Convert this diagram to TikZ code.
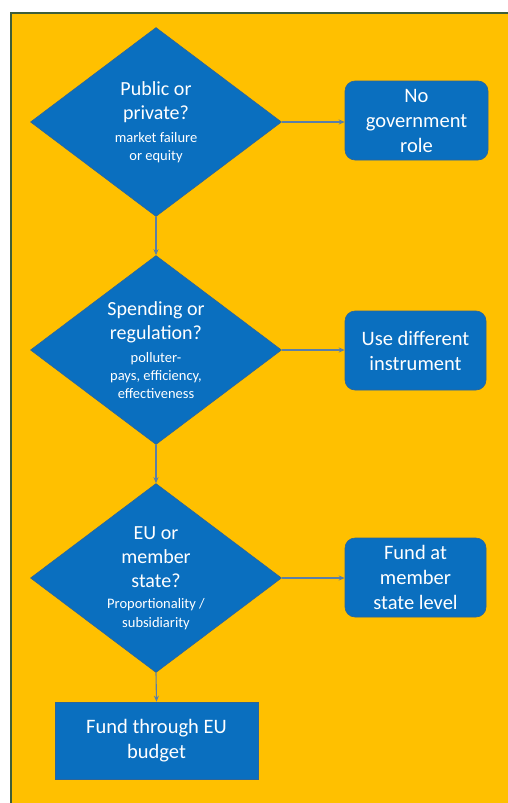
\documentclass[tikz,border=0pt]{standalone}
\usepackage{fontspec}
\setmainfont{Carlito}
\usetikzlibrary{shapes.geometric,arrows.meta}

\definecolor{panel}{HTML}{FFC000}
\definecolor{paneledge}{HTML}{3E5E3A}
\definecolor{shapefill}{HTML}{0A6FBF}
\definecolor{shapeedge}{HTML}{2E6599}
\definecolor{link}{HTML}{5A7FA8}

\newcommand{\subq}{\fontsize{14.5}{18}\selectfont}

\tikzset{
  dia/.style={diamond, aspect=1.33, inner sep=0pt,
    minimum width=251pt, minimum height=189pt,
    fill=shapefill, draw=shapeedge, line width=0.6pt,
    text=white, align=center, font=\fontsize{20}{24}\selectfont},
  endbox/.style={rectangle, rounded corners=10pt,
    fill=shapefill, draw=shapeedge, line width=0.6pt,
    text=white, align=center, font=\fontsize{20.5}{25}\selectfont},
  lastbox/.style={rectangle, fill=shapefill, draw=shapeedge, line width=0.6pt,
    text=white, align=center, font=\fontsize{20.5}{25}\selectfont},
  flow/.style={draw=link, line width=1.1pt,
    -{Stealth[length=6pt,width=5pt]}}
}

\begin{document}
\begin{tikzpicture}[x=1pt, y=-1pt]
  \useasboundingbox (0,0) rectangle (508,803);
  \fill[white] (0,0) rectangle (508,803);

  % yellow panel, running off the right and bottom edges
  \fill[panel] (11,13) rectangle (512,808);
  \draw[paneledge, line width=2pt] (11,808) -- (11,13) -- (512,13);

  % decisions
  \node[dia] (d1) at (156,122)
    {Public or\\private?\\[-0.5pt]{\subq market failure}\\[-6pt]{\subq or equity}};
  \node[dia] (d2) at (156,350)
    {Spending or\\regulation?\\[-1.5pt]{\subq polluter-}\\[-6pt]{\subq pays, efficiency,}\\[-6pt]{\subq effectiveness}};
  \node[dia] (d3) at (156,578)
    {EU or\\member\\state?\\[-3.5pt]{\subq Proportionality /}\\[-5pt]{\subq subsidiarity}};

  % outcomes
  \node[endbox, minimum width=143pt, minimum height=79pt] (o1) at (416.5,120.5)
    {No\\government\\role};
  \node[endbox, minimum width=141pt, minimum height=79pt] (o2) at (415.5,350.5)
    {Use different\\instrument};
  \node[endbox, minimum width=141pt, minimum height=79pt] (o3) at (415.5,577.5)
    {Fund at\\member\\state level};
  \node[lastbox, minimum width=203pt, minimum height=77pt] (o4) at (156.5,740.5)
    {Fund through EU\\budget};

  % connectors
  \draw[flow] (d1.east) -- (o1.west |- d1.east);
  \draw[flow] (d2.east) -- (o2.west |- d2.east);
  \draw[flow] (d3.east) -- (o3.west |- d3.east);
  \draw[flow] (d1.south) -- (d2.north);
  \draw[flow] (d2.south) -- (d3.north);
  \draw[flow] (d3.south) -- (o4.north);
\end{tikzpicture}
\end{document}
